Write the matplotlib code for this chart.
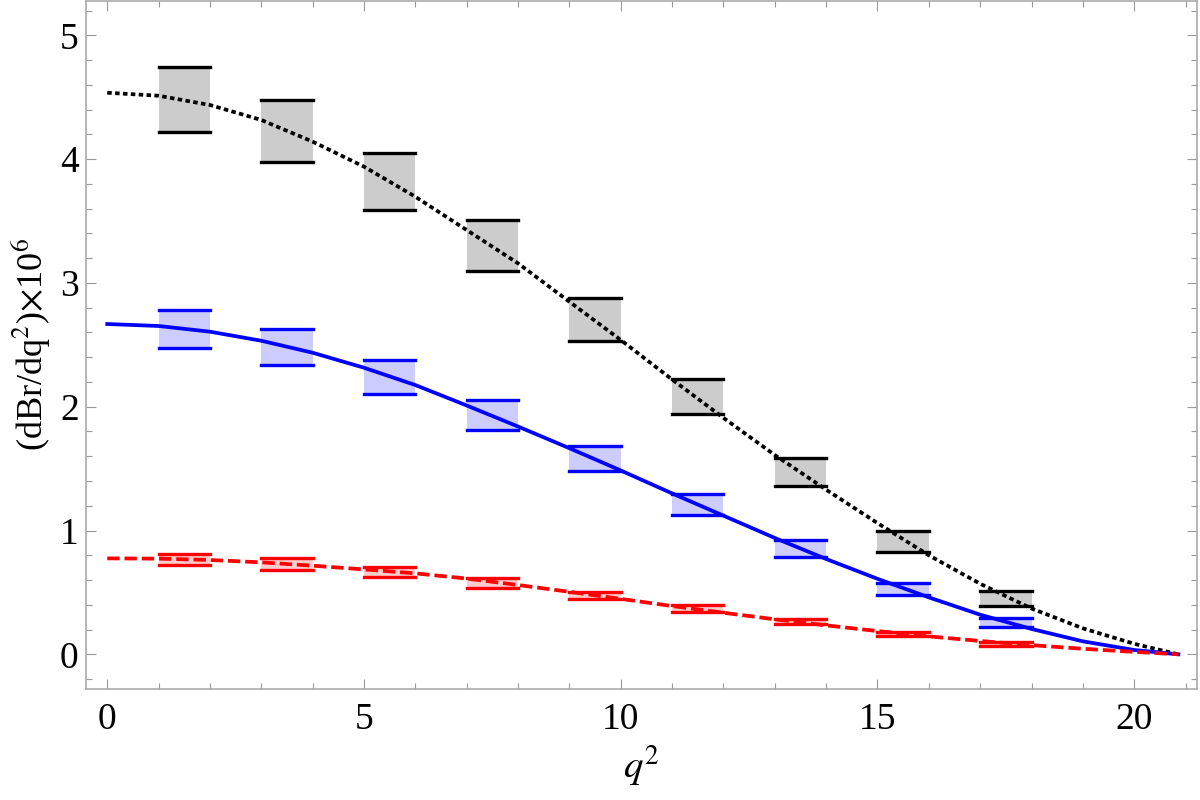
import numpy as np
import matplotlib
matplotlib.use("Agg")
import matplotlib.pyplot as plt
from matplotlib.ticker import MultipleLocator

plt.rcParams["font.family"] = ["Liberation Serif", "DejaVu Serif"]
plt.rcParams["mathtext.fontset"] = "stix"

# curves
q2 = [0, 1, 2, 3, 4, 5, 6, 7, 8, 9, 10, 11, 12, 13, 14, 15, 16, 17, 18, 19, 20, 20.86]
black_curve = [4.536, 4.512, 4.437, 4.316, 4.141, 3.939, 3.696, 3.427, 3.158, 2.848, 2.539,
               2.22, 1.91, 1.61, 1.33, 1.06, 0.80, 0.57, 0.37, 0.21, 0.085, 0.0]
blue_curve = [2.668, 2.652, 2.606, 2.533, 2.436, 2.315, 2.175, 2.01, 1.84, 1.665, 1.485,
              1.30, 1.12, 0.94, 0.77, 0.61, 0.46, 0.32, 0.205, 0.105, 0.035, 0.0]
red_curve = [0.775, 0.773, 0.762, 0.743, 0.716, 0.686, 0.654, 0.612, 0.56, 0.505, 0.448,
             0.39, 0.336, 0.283, 0.234, 0.188, 0.145, 0.108, 0.074, 0.045, 0.02, 0.0]

# binned bands
bin_lo = [1, 3, 5, 7, 9, 11, 13, 15, 17]
bin_hi = [2, 4, 6, 8, 10, 12, 14, 16, 18]
black_top = [4.74, 4.48, 4.05, 3.51, 2.88, 2.22, 1.585, 0.999, 0.511]
black_bot = [4.22, 3.98, 3.59, 3.10, 2.53, 1.944, 1.357, 0.826, 0.393]
blue_top = [2.78, 2.625, 2.375, 2.054, 1.683, 1.296, 0.921, 0.578, 0.293]
blue_bot = [2.477, 2.334, 2.103, 1.814, 1.478, 1.128, 0.786, 0.479, 0.223]
red_top = [0.81, 0.775, 0.703, 0.614, 0.505, 0.398, 0.285, 0.183, 0.10]
red_bot = [0.719, 0.681, 0.622, 0.533, 0.447, 0.339, 0.242, 0.15, 0.07]

fig = plt.figure(figsize=(12, 8), dpi=100)
ax = fig.add_axes([0.0714, 0.13875, 0.926, 0.86])


def bands(top, bot, line_color, fill_color):
    for lo, hi, t, b in zip(bin_lo, bin_hi, top, bot):
        ax.fill_between([lo, hi], [b, b], [t, t], color=fill_color, lw=0, zorder=1)
    ax.hlines(top, bin_lo, bin_hi, colors=line_color, lw=2.4, capstyle="projecting", zorder=2)
    ax.hlines(bot, bin_lo, bin_hi, colors=line_color, lw=2.4, capstyle="projecting", zorder=2)


bands(black_top, black_bot, "black", "#cccccc")
bands(blue_top, blue_bot, "#0000ff", "#ccccff")
bands(red_top, red_bot, "#ff0000", "#ffcccc")

ax.plot(q2, black_curve, color="black", lw=2.7, dashes=(1.2, 0.9), zorder=3)
ax.plot(q2, blue_curve, color="#0000ff", lw=2.7, zorder=3)
ax.plot(q2, red_curve, color="#ff0000", lw=2.7, dashes=(3.3, 1.3), zorder=3)

ax.set_xlim(-0.42, 21.22)
ax.set_ylim(-0.28, 5.277)
ax.xaxis.set_major_locator(MultipleLocator(5))
ax.xaxis.set_minor_locator(MultipleLocator(1))
ax.yaxis.set_major_locator(MultipleLocator(1))
ax.yaxis.set_minor_locator(MultipleLocator(0.2))
ax.tick_params(which="both", direction="in", top=True, right=True, color="#999999",
               labelsize=27, width=0.8)
ax.tick_params(which="major", length=7)
ax.tick_params(which="minor", length=4)
ax.tick_params(axis="x", pad=10)
ax.tick_params(axis="y", pad=5)
for s in ax.spines.values():
    s.set_color("#aaaaaa")
    s.set_linewidth(1.2)

ax.set_xlabel(r"$q^2$", fontsize=28, labelpad=4)
ax.set_ylabel(r"(dBr/dq$^2$)$\times$10$^6$", fontsize=26, labelpad=6)

fig.savefig("out.png", dpi=100)
